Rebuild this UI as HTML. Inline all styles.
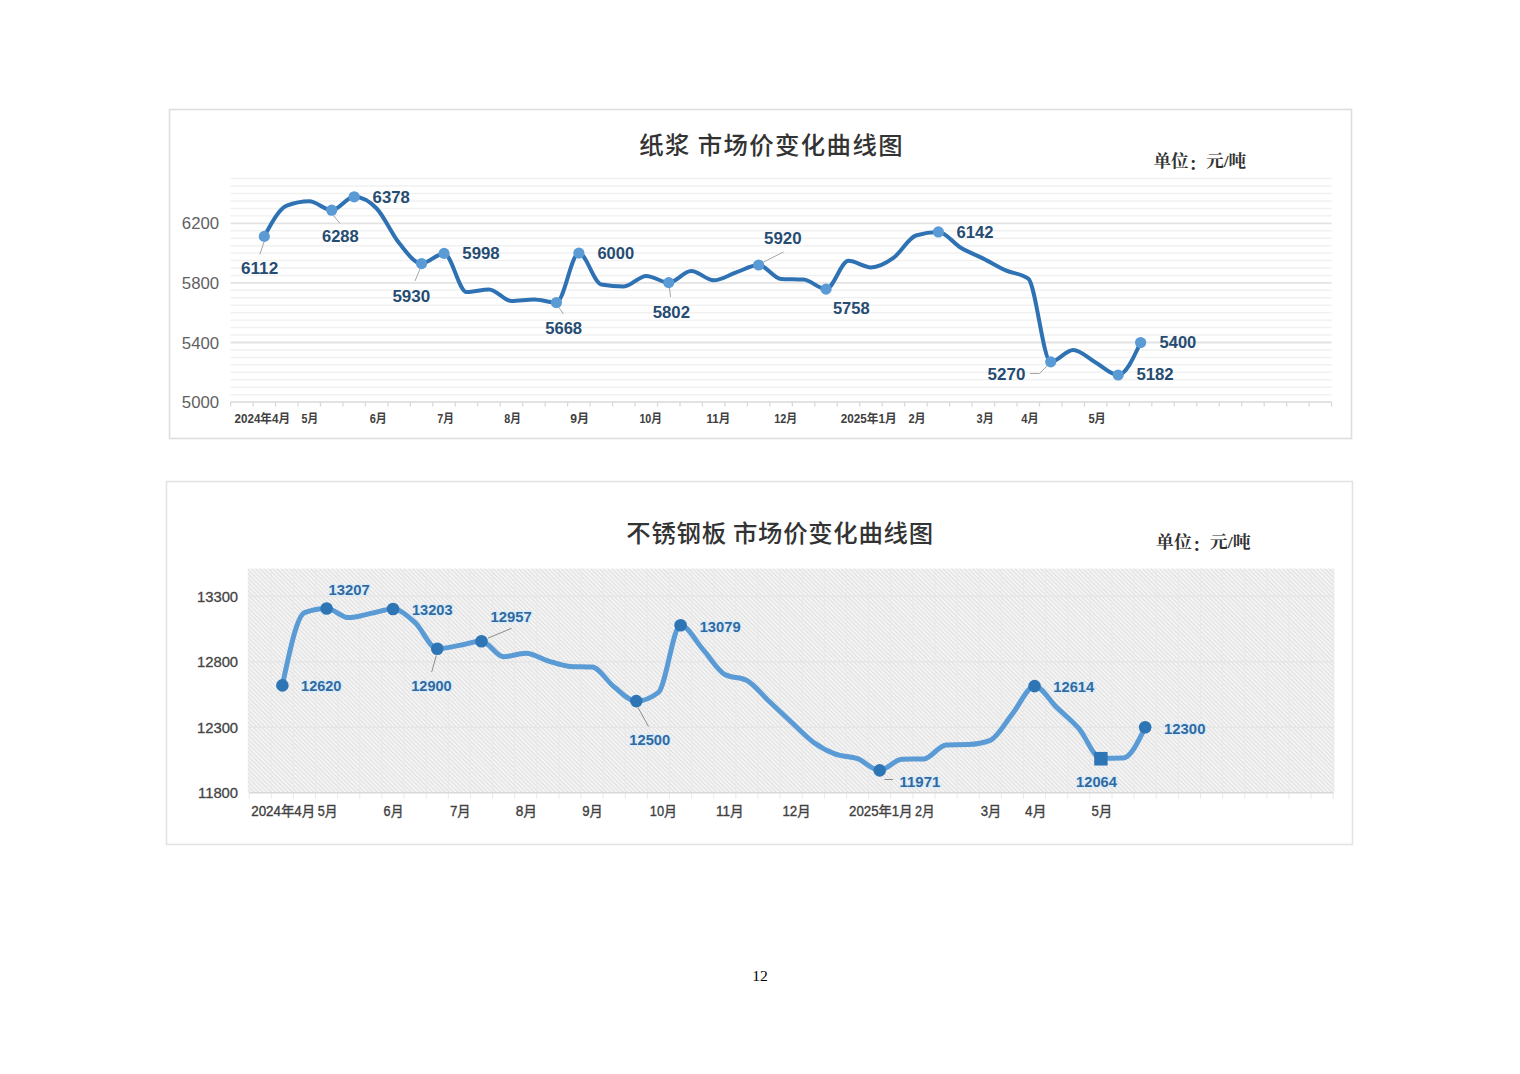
<!DOCTYPE html><html lang="zh"><head><meta charset="utf-8"><title>市场价变化曲线图</title>
<style>html,body{margin:0;padding:0;background:#fff;}body{width:1520px;height:1074px;overflow:hidden;position:relative;}svg{position:absolute;left:0;top:0;display:block;}</style></head><body>
<svg width="1520" height="1074" viewBox="0 0 1520 1074">
<defs><pattern id="hatch" patternUnits="userSpaceOnUse" width="3" height="4" patternTransform="rotate(-45)"><rect width="3" height="4" fill="#f8f8f8"/><rect x="0" y="0" width="1.3" height="4" fill="#dfdfdf"/></pattern></defs>
<rect width="1520" height="1074" fill="#fff"/>
<rect x="169.5" y="109.5" width="1182" height="329" fill="#fff" stroke="#dedede" stroke-width="1.6"/>
<line x1="230.6" y1="394.65" x2="1331.6" y2="394.65" stroke="#f1f1f1" stroke-width="1.5"/>
<line x1="230.6" y1="387.20" x2="1331.6" y2="387.20" stroke="#f1f1f1" stroke-width="1.5"/>
<line x1="230.6" y1="379.75" x2="1331.6" y2="379.75" stroke="#f1f1f1" stroke-width="1.5"/>
<line x1="230.6" y1="372.30" x2="1331.6" y2="372.30" stroke="#f1f1f1" stroke-width="1.5"/>
<line x1="230.6" y1="364.85" x2="1331.6" y2="364.85" stroke="#f1f1f1" stroke-width="1.5"/>
<line x1="230.6" y1="357.40" x2="1331.6" y2="357.40" stroke="#f1f1f1" stroke-width="1.5"/>
<line x1="230.6" y1="349.95" x2="1331.6" y2="349.95" stroke="#f1f1f1" stroke-width="1.5"/>
<line x1="230.6" y1="342.50" x2="1331.6" y2="342.50" stroke="#e3e3e3" stroke-width="1.8"/>
<line x1="230.6" y1="335.05" x2="1331.6" y2="335.05" stroke="#f1f1f1" stroke-width="1.5"/>
<line x1="230.6" y1="327.60" x2="1331.6" y2="327.60" stroke="#f1f1f1" stroke-width="1.5"/>
<line x1="230.6" y1="320.15" x2="1331.6" y2="320.15" stroke="#f1f1f1" stroke-width="1.5"/>
<line x1="230.6" y1="312.70" x2="1331.6" y2="312.70" stroke="#f1f1f1" stroke-width="1.5"/>
<line x1="230.6" y1="305.25" x2="1331.6" y2="305.25" stroke="#f1f1f1" stroke-width="1.5"/>
<line x1="230.6" y1="297.80" x2="1331.6" y2="297.80" stroke="#f1f1f1" stroke-width="1.5"/>
<line x1="230.6" y1="290.35" x2="1331.6" y2="290.35" stroke="#f1f1f1" stroke-width="1.5"/>
<line x1="230.6" y1="282.90" x2="1331.6" y2="282.90" stroke="#e3e3e3" stroke-width="1.8"/>
<line x1="230.6" y1="275.45" x2="1331.6" y2="275.45" stroke="#f1f1f1" stroke-width="1.5"/>
<line x1="230.6" y1="268.00" x2="1331.6" y2="268.00" stroke="#f1f1f1" stroke-width="1.5"/>
<line x1="230.6" y1="260.55" x2="1331.6" y2="260.55" stroke="#f1f1f1" stroke-width="1.5"/>
<line x1="230.6" y1="253.10" x2="1331.6" y2="253.10" stroke="#f1f1f1" stroke-width="1.5"/>
<line x1="230.6" y1="245.65" x2="1331.6" y2="245.65" stroke="#f1f1f1" stroke-width="1.5"/>
<line x1="230.6" y1="238.20" x2="1331.6" y2="238.20" stroke="#f1f1f1" stroke-width="1.5"/>
<line x1="230.6" y1="230.75" x2="1331.6" y2="230.75" stroke="#f1f1f1" stroke-width="1.5"/>
<line x1="230.6" y1="223.30" x2="1331.6" y2="223.30" stroke="#e3e3e3" stroke-width="1.8"/>
<line x1="230.6" y1="215.85" x2="1331.6" y2="215.85" stroke="#f1f1f1" stroke-width="1.5"/>
<line x1="230.6" y1="208.40" x2="1331.6" y2="208.40" stroke="#f1f1f1" stroke-width="1.5"/>
<line x1="230.6" y1="200.95" x2="1331.6" y2="200.95" stroke="#f1f1f1" stroke-width="1.5"/>
<line x1="230.6" y1="193.50" x2="1331.6" y2="193.50" stroke="#f1f1f1" stroke-width="1.5"/>
<line x1="230.6" y1="186.05" x2="1331.6" y2="186.05" stroke="#f1f1f1" stroke-width="1.5"/>
<line x1="230.6" y1="178.60" x2="1331.6" y2="178.60" stroke="#f1f1f1" stroke-width="1.5"/>
<line x1="230.6" y1="402.10" x2="1331.6" y2="402.10" stroke="#d9d9d9" stroke-width="1.5"/>
<line x1="230.60" y1="402.10" x2="230.60" y2="406.60" stroke="#d9d9d9" stroke-width="1.3"/>
<line x1="253.07" y1="402.10" x2="253.07" y2="406.60" stroke="#d9d9d9" stroke-width="1.3"/>
<line x1="275.54" y1="402.10" x2="275.54" y2="406.60" stroke="#d9d9d9" stroke-width="1.3"/>
<line x1="298.01" y1="402.10" x2="298.01" y2="406.60" stroke="#d9d9d9" stroke-width="1.3"/>
<line x1="320.48" y1="402.10" x2="320.48" y2="406.60" stroke="#d9d9d9" stroke-width="1.3"/>
<line x1="342.95" y1="402.10" x2="342.95" y2="406.60" stroke="#d9d9d9" stroke-width="1.3"/>
<line x1="365.42" y1="402.10" x2="365.42" y2="406.60" stroke="#d9d9d9" stroke-width="1.3"/>
<line x1="387.89" y1="402.10" x2="387.89" y2="406.60" stroke="#d9d9d9" stroke-width="1.3"/>
<line x1="410.36" y1="402.10" x2="410.36" y2="406.60" stroke="#d9d9d9" stroke-width="1.3"/>
<line x1="432.82" y1="402.10" x2="432.82" y2="406.60" stroke="#d9d9d9" stroke-width="1.3"/>
<line x1="455.29" y1="402.10" x2="455.29" y2="406.60" stroke="#d9d9d9" stroke-width="1.3"/>
<line x1="477.76" y1="402.10" x2="477.76" y2="406.60" stroke="#d9d9d9" stroke-width="1.3"/>
<line x1="500.23" y1="402.10" x2="500.23" y2="406.60" stroke="#d9d9d9" stroke-width="1.3"/>
<line x1="522.70" y1="402.10" x2="522.70" y2="406.60" stroke="#d9d9d9" stroke-width="1.3"/>
<line x1="545.17" y1="402.10" x2="545.17" y2="406.60" stroke="#d9d9d9" stroke-width="1.3"/>
<line x1="567.64" y1="402.10" x2="567.64" y2="406.60" stroke="#d9d9d9" stroke-width="1.3"/>
<line x1="590.11" y1="402.10" x2="590.11" y2="406.60" stroke="#d9d9d9" stroke-width="1.3"/>
<line x1="612.58" y1="402.10" x2="612.58" y2="406.60" stroke="#d9d9d9" stroke-width="1.3"/>
<line x1="635.05" y1="402.10" x2="635.05" y2="406.60" stroke="#d9d9d9" stroke-width="1.3"/>
<line x1="657.52" y1="402.10" x2="657.52" y2="406.60" stroke="#d9d9d9" stroke-width="1.3"/>
<line x1="679.99" y1="402.10" x2="679.99" y2="406.60" stroke="#d9d9d9" stroke-width="1.3"/>
<line x1="702.46" y1="402.10" x2="702.46" y2="406.60" stroke="#d9d9d9" stroke-width="1.3"/>
<line x1="724.93" y1="402.10" x2="724.93" y2="406.60" stroke="#d9d9d9" stroke-width="1.3"/>
<line x1="747.40" y1="402.10" x2="747.40" y2="406.60" stroke="#d9d9d9" stroke-width="1.3"/>
<line x1="769.87" y1="402.10" x2="769.87" y2="406.60" stroke="#d9d9d9" stroke-width="1.3"/>
<line x1="792.33" y1="402.10" x2="792.33" y2="406.60" stroke="#d9d9d9" stroke-width="1.3"/>
<line x1="814.80" y1="402.10" x2="814.80" y2="406.60" stroke="#d9d9d9" stroke-width="1.3"/>
<line x1="837.27" y1="402.10" x2="837.27" y2="406.60" stroke="#d9d9d9" stroke-width="1.3"/>
<line x1="859.74" y1="402.10" x2="859.74" y2="406.60" stroke="#d9d9d9" stroke-width="1.3"/>
<line x1="882.21" y1="402.10" x2="882.21" y2="406.60" stroke="#d9d9d9" stroke-width="1.3"/>
<line x1="904.68" y1="402.10" x2="904.68" y2="406.60" stroke="#d9d9d9" stroke-width="1.3"/>
<line x1="927.15" y1="402.10" x2="927.15" y2="406.60" stroke="#d9d9d9" stroke-width="1.3"/>
<line x1="949.62" y1="402.10" x2="949.62" y2="406.60" stroke="#d9d9d9" stroke-width="1.3"/>
<line x1="972.09" y1="402.10" x2="972.09" y2="406.60" stroke="#d9d9d9" stroke-width="1.3"/>
<line x1="994.56" y1="402.10" x2="994.56" y2="406.60" stroke="#d9d9d9" stroke-width="1.3"/>
<line x1="1017.03" y1="402.10" x2="1017.03" y2="406.60" stroke="#d9d9d9" stroke-width="1.3"/>
<line x1="1039.50" y1="402.10" x2="1039.50" y2="406.60" stroke="#d9d9d9" stroke-width="1.3"/>
<line x1="1061.97" y1="402.10" x2="1061.97" y2="406.60" stroke="#d9d9d9" stroke-width="1.3"/>
<line x1="1084.44" y1="402.10" x2="1084.44" y2="406.60" stroke="#d9d9d9" stroke-width="1.3"/>
<line x1="1106.91" y1="402.10" x2="1106.91" y2="406.60" stroke="#d9d9d9" stroke-width="1.3"/>
<line x1="1129.38" y1="402.10" x2="1129.38" y2="406.60" stroke="#d9d9d9" stroke-width="1.3"/>
<line x1="1151.84" y1="402.10" x2="1151.84" y2="406.60" stroke="#d9d9d9" stroke-width="1.3"/>
<line x1="1174.31" y1="402.10" x2="1174.31" y2="406.60" stroke="#d9d9d9" stroke-width="1.3"/>
<line x1="1196.78" y1="402.10" x2="1196.78" y2="406.60" stroke="#d9d9d9" stroke-width="1.3"/>
<line x1="1219.25" y1="402.10" x2="1219.25" y2="406.60" stroke="#d9d9d9" stroke-width="1.3"/>
<line x1="1241.72" y1="402.10" x2="1241.72" y2="406.60" stroke="#d9d9d9" stroke-width="1.3"/>
<line x1="1264.19" y1="402.10" x2="1264.19" y2="406.60" stroke="#d9d9d9" stroke-width="1.3"/>
<line x1="1286.66" y1="402.10" x2="1286.66" y2="406.60" stroke="#d9d9d9" stroke-width="1.3"/>
<line x1="1309.13" y1="402.10" x2="1309.13" y2="406.60" stroke="#d9d9d9" stroke-width="1.3"/>
<line x1="1331.60" y1="402.10" x2="1331.60" y2="406.60" stroke="#d9d9d9" stroke-width="1.3"/>
<text x="219.2" y="229.30" text-anchor="end" font-family="'Liberation Sans', 'Noto Sans CJK SC', sans-serif" font-size="16.8" fill="#5f5f5f">6200</text>
<text x="219.2" y="288.90" text-anchor="end" font-family="'Liberation Sans', 'Noto Sans CJK SC', sans-serif" font-size="16.8" fill="#5f5f5f">5800</text>
<text x="219.2" y="348.50" text-anchor="end" font-family="'Liberation Sans', 'Noto Sans CJK SC', sans-serif" font-size="16.8" fill="#5f5f5f">5400</text>
<text x="219.2" y="408.10" text-anchor="end" font-family="'Liberation Sans', 'Noto Sans CJK SC', sans-serif" font-size="16.8" fill="#5f5f5f">5000</text>
<text x="234.5" y="422.6" font-family="'Liberation Sans', 'Noto Sans CJK SC', sans-serif" font-size="12" font-weight="bold" fill="#404040" textLength="55.6" lengthAdjust="spacingAndGlyphs">2024年4月</text>
<text x="301.6" y="422.6" font-family="'Liberation Sans', 'Noto Sans CJK SC', sans-serif" font-size="12" font-weight="bold" fill="#404040" textLength="16.6" lengthAdjust="spacingAndGlyphs">5月</text>
<text x="369.7" y="422.6" font-family="'Liberation Sans', 'Noto Sans CJK SC', sans-serif" font-size="12" font-weight="bold" fill="#404040" textLength="17.1" lengthAdjust="spacingAndGlyphs">6月</text>
<text x="437.2" y="422.6" font-family="'Liberation Sans', 'Noto Sans CJK SC', sans-serif" font-size="12" font-weight="bold" fill="#404040" textLength="16.7" lengthAdjust="spacingAndGlyphs">7月</text>
<text x="504.3" y="422.6" font-family="'Liberation Sans', 'Noto Sans CJK SC', sans-serif" font-size="12" font-weight="bold" fill="#404040" textLength="16.7" lengthAdjust="spacingAndGlyphs">8月</text>
<text x="570.3" y="422.6" font-family="'Liberation Sans', 'Noto Sans CJK SC', sans-serif" font-size="12" font-weight="bold" fill="#404040" textLength="18.8" lengthAdjust="spacingAndGlyphs">9月</text>
<text x="639.4" y="422.6" font-family="'Liberation Sans', 'Noto Sans CJK SC', sans-serif" font-size="12" font-weight="bold" fill="#404040" textLength="22.7" lengthAdjust="spacingAndGlyphs">10月</text>
<text x="706.5" y="422.6" font-family="'Liberation Sans', 'Noto Sans CJK SC', sans-serif" font-size="12" font-weight="bold" fill="#404040" textLength="23.7" lengthAdjust="spacingAndGlyphs">11月</text>
<text x="774.2" y="422.6" font-family="'Liberation Sans', 'Noto Sans CJK SC', sans-serif" font-size="12" font-weight="bold" fill="#404040" textLength="23.1" lengthAdjust="spacingAndGlyphs">12月</text>
<text x="840.7" y="422.6" font-family="'Liberation Sans', 'Noto Sans CJK SC', sans-serif" font-size="12" font-weight="bold" fill="#404040" textLength="55.9" lengthAdjust="spacingAndGlyphs">2025年1月</text>
<text x="908.4" y="422.6" font-family="'Liberation Sans', 'Noto Sans CJK SC', sans-serif" font-size="12" font-weight="bold" fill="#404040" textLength="17.2" lengthAdjust="spacingAndGlyphs">2月</text>
<text x="976.5" y="422.6" font-family="'Liberation Sans', 'Noto Sans CJK SC', sans-serif" font-size="12" font-weight="bold" fill="#404040" textLength="17.2" lengthAdjust="spacingAndGlyphs">3月</text>
<text x="1021.3" y="422.6" font-family="'Liberation Sans', 'Noto Sans CJK SC', sans-serif" font-size="12" font-weight="bold" fill="#404040" textLength="17.4" lengthAdjust="spacingAndGlyphs">4月</text>
<text x="1088.4" y="422.6" font-family="'Liberation Sans', 'Noto Sans CJK SC', sans-serif" font-size="12" font-weight="bold" fill="#404040" textLength="17.4" lengthAdjust="spacingAndGlyphs">5月</text>
<text x="639.2" y="154.0" font-family="'Noto Sans CJK SC', 'Liberation Sans', sans-serif" font-size="24.4" font-weight="500" fill="#333333" textLength="263.4" lengthAdjust="spacing">纸浆 市场价变化曲线图</text>
<text x="1153.4" y="167.0" font-family="'Liberation Serif', 'Noto Serif CJK SC', serif" font-size="17" font-weight="bold" fill="#333333" textLength="92.8" lengthAdjust="spacingAndGlyphs">单位<tspan dy="3.2">：</tspan><tspan dy="-3.2">元/吨</tspan></text>
<line x1="264.0" y1="242.0" x2="259.8" y2="254.5" stroke="#a6a6a6" stroke-width="1"/>
<line x1="333.5" y1="215.5" x2="340.0" y2="223.5" stroke="#a6a6a6" stroke-width="1"/>
<line x1="420.0" y1="269.0" x2="415.0" y2="281.0" stroke="#a6a6a6" stroke-width="1"/>
<line x1="558.5" y1="307.0" x2="563.5" y2="314.0" stroke="#a6a6a6" stroke-width="1"/>
<line x1="669.5" y1="288.0" x2="670.5" y2="297.0" stroke="#a6a6a6" stroke-width="1"/>
<line x1="763.5" y1="262.0" x2="783.5" y2="252.0" stroke="#a6a6a6" stroke-width="1"/>
<line x1="1048.0" y1="365.0" x2="1039.5" y2="373.5" stroke="#a6a6a6" stroke-width="1"/>
<line x1="1039.5" y1="373.5" x2="1030.0" y2="373.5" stroke="#a6a6a6" stroke-width="1"/>
<path d="M264.30,236.41 C271.79,222.47 279.28,208.53 286.77,205.60 C294.26,202.67 301.75,201.20 309.24,201.20 C316.73,201.20 324.22,210.19 331.71,210.19 C339.20,210.19 346.69,196.78 354.18,196.78 C361.67,196.78 369.16,200.78 376.65,208.50 C384.14,216.22 391.63,233.93 399.12,243.10 C406.61,252.27 414.10,263.53 421.59,263.53 C429.08,263.53 436.57,253.40 444.06,253.40 C451.55,253.40 459.04,292.00 466.53,292.00 C474.02,292.00 481.51,289.40 489.00,289.40 C496.49,289.40 503.98,301.00 511.47,301.00 C518.96,301.00 526.45,299.60 533.94,299.60 C541.43,299.60 548.92,302.57 556.41,302.57 C563.90,302.57 571.39,253.10 578.88,253.10 C586.37,253.10 593.86,283.23 601.34,284.50 C608.83,285.77 616.32,286.40 623.81,286.40 C631.30,286.40 638.79,275.90 646.28,275.90 C653.77,275.90 661.26,282.60 668.75,282.60 C676.24,282.60 683.73,271.00 691.22,271.00 C698.71,271.00 706.20,280.30 713.69,280.30 C721.18,280.30 728.67,274.95 736.16,272.40 C743.65,269.85 751.14,265.02 758.63,265.02 C766.12,265.02 773.61,278.60 781.10,279.00 C788.59,279.40 796.08,279.20 803.57,279.60 C811.06,280.00 818.55,289.16 826.04,289.16 C833.53,289.16 841.02,260.80 848.51,260.80 C856.00,260.80 863.49,267.40 870.98,267.40 C878.47,267.40 885.96,263.22 893.45,257.90 C900.94,252.58 908.43,237.87 915.92,235.50 C923.41,233.13 930.90,231.94 938.39,231.94 C945.88,231.94 953.37,243.26 960.86,247.70 C968.34,252.14 975.83,254.82 983.32,258.60 C990.81,262.38 998.30,267.05 1005.79,270.40 C1013.28,273.75 1020.77,273.17 1028.26,278.70 C1035.75,284.23 1043.24,361.87 1050.73,361.87 C1058.22,361.87 1065.71,350.00 1073.20,350.00 C1080.69,350.00 1088.18,358.34 1095.67,362.50 C1103.16,366.66 1110.65,374.98 1118.14,374.98 C1125.63,374.98 1133.12,358.74 1140.61,342.50" fill="none" stroke="#2e72b4" stroke-width="4" stroke-linejoin="round" stroke-linecap="round"/>
<circle cx="264.30" cy="236.41" r="5.6" fill="#5b9bd5"/>
<circle cx="331.71" cy="210.19" r="5.6" fill="#5b9bd5"/>
<circle cx="354.18" cy="196.78" r="5.6" fill="#5b9bd5"/>
<circle cx="421.59" cy="263.53" r="5.6" fill="#5b9bd5"/>
<circle cx="444.06" cy="253.40" r="5.6" fill="#5b9bd5"/>
<circle cx="556.41" cy="302.57" r="5.6" fill="#5b9bd5"/>
<circle cx="578.88" cy="253.10" r="5.6" fill="#5b9bd5"/>
<circle cx="668.75" cy="282.60" r="5.6" fill="#5b9bd5"/>
<circle cx="758.63" cy="265.02" r="5.6" fill="#5b9bd5"/>
<circle cx="826.04" cy="289.16" r="5.6" fill="#5b9bd5"/>
<circle cx="938.39" cy="231.94" r="5.6" fill="#5b9bd5"/>
<circle cx="1050.73" cy="361.87" r="5.6" fill="#5b9bd5"/>
<circle cx="1118.14" cy="374.98" r="5.6" fill="#5b9bd5"/>
<circle cx="1140.61" cy="342.50" r="5.6" fill="#5b9bd5"/>
<text x="241.0" y="273.7" font-family="'Liberation Sans', 'Noto Sans CJK SC', sans-serif" font-size="15.6" font-weight="bold" fill="#264c72" textLength="37.2" lengthAdjust="spacingAndGlyphs">6112</text>
<text x="322.0" y="242.1" font-family="'Liberation Sans', 'Noto Sans CJK SC', sans-serif" font-size="15.6" font-weight="bold" fill="#264c72" textLength="36.7" lengthAdjust="spacingAndGlyphs">6288</text>
<text x="372.6" y="202.6" font-family="'Liberation Sans', 'Noto Sans CJK SC', sans-serif" font-size="15.6" font-weight="bold" fill="#264c72" textLength="37.2" lengthAdjust="spacingAndGlyphs">6378</text>
<text x="392.4" y="302.1" font-family="'Liberation Sans', 'Noto Sans CJK SC', sans-serif" font-size="15.6" font-weight="bold" fill="#264c72" textLength="37.9" lengthAdjust="spacingAndGlyphs">5930</text>
<text x="462.3" y="258.8" font-family="'Liberation Sans', 'Noto Sans CJK SC', sans-serif" font-size="15.6" font-weight="bold" fill="#264c72" textLength="37.4" lengthAdjust="spacingAndGlyphs">5998</text>
<text x="545.2" y="333.5" font-family="'Liberation Sans', 'Noto Sans CJK SC', sans-serif" font-size="15.6" font-weight="bold" fill="#264c72" textLength="36.9" lengthAdjust="spacingAndGlyphs">5668</text>
<text x="597.4" y="258.5" font-family="'Liberation Sans', 'Noto Sans CJK SC', sans-serif" font-size="15.6" font-weight="bold" fill="#264c72" textLength="36.7" lengthAdjust="spacingAndGlyphs">6000</text>
<text x="652.7" y="318.4" font-family="'Liberation Sans', 'Noto Sans CJK SC', sans-serif" font-size="15.6" font-weight="bold" fill="#264c72" textLength="37.3" lengthAdjust="spacingAndGlyphs">5802</text>
<text x="764.0" y="244.4" font-family="'Liberation Sans', 'Noto Sans CJK SC', sans-serif" font-size="15.6" font-weight="bold" fill="#264c72" textLength="37.6" lengthAdjust="spacingAndGlyphs">5920</text>
<text x="832.9" y="314.2" font-family="'Liberation Sans', 'Noto Sans CJK SC', sans-serif" font-size="15.6" font-weight="bold" fill="#264c72" textLength="36.8" lengthAdjust="spacingAndGlyphs">5758</text>
<text x="956.5" y="238.2" font-family="'Liberation Sans', 'Noto Sans CJK SC', sans-serif" font-size="15.6" font-weight="bold" fill="#264c72" textLength="37.0" lengthAdjust="spacingAndGlyphs">6142</text>
<text x="987.6" y="379.9" font-family="'Liberation Sans', 'Noto Sans CJK SC', sans-serif" font-size="15.6" font-weight="bold" fill="#264c72" textLength="37.8" lengthAdjust="spacingAndGlyphs">5270</text>
<text x="1136.4" y="380.2" font-family="'Liberation Sans', 'Noto Sans CJK SC', sans-serif" font-size="15.6" font-weight="bold" fill="#264c72" textLength="37.3" lengthAdjust="spacingAndGlyphs">5182</text>
<text x="1159.5" y="347.6" font-family="'Liberation Sans', 'Noto Sans CJK SC', sans-serif" font-size="15.6" font-weight="bold" fill="#264c72" textLength="36.8" lengthAdjust="spacingAndGlyphs">5400</text>
<rect x="166.5" y="481.5" width="1186" height="363" fill="#fff" stroke="#e3e3e3" stroke-width="1.6"/>
<rect x="247.8" y="568.6" width="1086.6" height="224.2" fill="url(#hatch)"/>
<line x1="249.20" y1="568.6" x2="249.20" y2="798.80" stroke="#e9e9e9" stroke-width="1.0"/>
<line x1="271.32" y1="568.6" x2="271.32" y2="798.80" stroke="#e9e9e9" stroke-width="1.0"/>
<line x1="293.44" y1="568.6" x2="293.44" y2="798.80" stroke="#e9e9e9" stroke-width="1.0"/>
<line x1="315.57" y1="568.6" x2="315.57" y2="798.80" stroke="#e9e9e9" stroke-width="1.0"/>
<line x1="337.69" y1="568.6" x2="337.69" y2="798.80" stroke="#e9e9e9" stroke-width="1.0"/>
<line x1="359.81" y1="568.6" x2="359.81" y2="798.80" stroke="#e9e9e9" stroke-width="1.0"/>
<line x1="381.93" y1="568.6" x2="381.93" y2="798.80" stroke="#e9e9e9" stroke-width="1.0"/>
<line x1="404.06" y1="568.6" x2="404.06" y2="798.80" stroke="#e9e9e9" stroke-width="1.0"/>
<line x1="426.18" y1="568.6" x2="426.18" y2="798.80" stroke="#e9e9e9" stroke-width="1.0"/>
<line x1="448.30" y1="568.6" x2="448.30" y2="798.80" stroke="#e9e9e9" stroke-width="1.0"/>
<line x1="470.42" y1="568.6" x2="470.42" y2="798.80" stroke="#e9e9e9" stroke-width="1.0"/>
<line x1="492.55" y1="568.6" x2="492.55" y2="798.80" stroke="#e9e9e9" stroke-width="1.0"/>
<line x1="514.67" y1="568.6" x2="514.67" y2="798.80" stroke="#e9e9e9" stroke-width="1.0"/>
<line x1="536.79" y1="568.6" x2="536.79" y2="798.80" stroke="#e9e9e9" stroke-width="1.0"/>
<line x1="558.91" y1="568.6" x2="558.91" y2="798.80" stroke="#e9e9e9" stroke-width="1.0"/>
<line x1="581.04" y1="568.6" x2="581.04" y2="798.80" stroke="#e9e9e9" stroke-width="1.0"/>
<line x1="603.16" y1="568.6" x2="603.16" y2="798.80" stroke="#e9e9e9" stroke-width="1.0"/>
<line x1="625.28" y1="568.6" x2="625.28" y2="798.80" stroke="#e9e9e9" stroke-width="1.0"/>
<line x1="647.40" y1="568.6" x2="647.40" y2="798.80" stroke="#e9e9e9" stroke-width="1.0"/>
<line x1="669.53" y1="568.6" x2="669.53" y2="798.80" stroke="#e9e9e9" stroke-width="1.0"/>
<line x1="691.65" y1="568.6" x2="691.65" y2="798.80" stroke="#e9e9e9" stroke-width="1.0"/>
<line x1="713.77" y1="568.6" x2="713.77" y2="798.80" stroke="#e9e9e9" stroke-width="1.0"/>
<line x1="735.89" y1="568.6" x2="735.89" y2="798.80" stroke="#e9e9e9" stroke-width="1.0"/>
<line x1="758.02" y1="568.6" x2="758.02" y2="798.80" stroke="#e9e9e9" stroke-width="1.0"/>
<line x1="780.14" y1="568.6" x2="780.14" y2="798.80" stroke="#e9e9e9" stroke-width="1.0"/>
<line x1="802.26" y1="568.6" x2="802.26" y2="798.80" stroke="#e9e9e9" stroke-width="1.0"/>
<line x1="824.38" y1="568.6" x2="824.38" y2="798.80" stroke="#e9e9e9" stroke-width="1.0"/>
<line x1="846.51" y1="568.6" x2="846.51" y2="798.80" stroke="#e9e9e9" stroke-width="1.0"/>
<line x1="868.63" y1="568.6" x2="868.63" y2="798.80" stroke="#e9e9e9" stroke-width="1.0"/>
<line x1="890.75" y1="568.6" x2="890.75" y2="798.80" stroke="#e9e9e9" stroke-width="1.0"/>
<line x1="912.87" y1="568.6" x2="912.87" y2="798.80" stroke="#e9e9e9" stroke-width="1.0"/>
<line x1="935.00" y1="568.6" x2="935.00" y2="798.80" stroke="#e9e9e9" stroke-width="1.0"/>
<line x1="957.12" y1="568.6" x2="957.12" y2="798.80" stroke="#e9e9e9" stroke-width="1.0"/>
<line x1="979.24" y1="568.6" x2="979.24" y2="798.80" stroke="#e9e9e9" stroke-width="1.0"/>
<line x1="1001.36" y1="568.6" x2="1001.36" y2="798.80" stroke="#e9e9e9" stroke-width="1.0"/>
<line x1="1023.49" y1="568.6" x2="1023.49" y2="798.80" stroke="#e9e9e9" stroke-width="1.0"/>
<line x1="1045.61" y1="568.6" x2="1045.61" y2="798.80" stroke="#e9e9e9" stroke-width="1.0"/>
<line x1="1067.73" y1="568.6" x2="1067.73" y2="798.80" stroke="#e9e9e9" stroke-width="1.0"/>
<line x1="1089.85" y1="568.6" x2="1089.85" y2="798.80" stroke="#e9e9e9" stroke-width="1.0"/>
<line x1="1111.98" y1="568.6" x2="1111.98" y2="798.80" stroke="#e9e9e9" stroke-width="1.0"/>
<line x1="1134.10" y1="568.6" x2="1134.10" y2="798.80" stroke="#e9e9e9" stroke-width="1.0"/>
<line x1="1156.22" y1="568.6" x2="1156.22" y2="798.80" stroke="#e9e9e9" stroke-width="1.0"/>
<line x1="1178.34" y1="568.6" x2="1178.34" y2="798.80" stroke="#e9e9e9" stroke-width="1.0"/>
<line x1="1200.47" y1="568.6" x2="1200.47" y2="798.80" stroke="#e9e9e9" stroke-width="1.0"/>
<line x1="1222.59" y1="568.6" x2="1222.59" y2="798.80" stroke="#e9e9e9" stroke-width="1.0"/>
<line x1="1244.71" y1="568.6" x2="1244.71" y2="798.80" stroke="#e9e9e9" stroke-width="1.0"/>
<line x1="1266.83" y1="568.6" x2="1266.83" y2="798.80" stroke="#e9e9e9" stroke-width="1.0"/>
<line x1="1288.96" y1="568.6" x2="1288.96" y2="798.80" stroke="#e9e9e9" stroke-width="1.0"/>
<line x1="1311.08" y1="568.6" x2="1311.08" y2="798.80" stroke="#e9e9e9" stroke-width="1.0"/>
<line x1="1333.20" y1="568.6" x2="1333.20" y2="798.80" stroke="#e9e9e9" stroke-width="1.0"/>
<line x1="249.2" y1="596.30" x2="1333.2" y2="596.30" stroke="#e6e6e6" stroke-width="1.4"/>
<line x1="249.2" y1="661.80" x2="1333.2" y2="661.80" stroke="#e6e6e6" stroke-width="1.4"/>
<line x1="249.2" y1="727.30" x2="1333.2" y2="727.30" stroke="#e6e6e6" stroke-width="1.4"/>
<line x1="249.2" y1="792.80" x2="1333.2" y2="792.80" stroke="#d9d9d9" stroke-width="1.6"/>
<text x="238.1" y="601.70" text-anchor="end" font-family="'Liberation Sans', 'Noto Sans CJK SC', sans-serif" font-size="14.8" fill="#444444" stroke="#444444" stroke-width="0.3">13300</text>
<text x="238.1" y="667.20" text-anchor="end" font-family="'Liberation Sans', 'Noto Sans CJK SC', sans-serif" font-size="14.8" fill="#444444" stroke="#444444" stroke-width="0.3">12800</text>
<text x="238.1" y="732.70" text-anchor="end" font-family="'Liberation Sans', 'Noto Sans CJK SC', sans-serif" font-size="14.8" fill="#444444" stroke="#444444" stroke-width="0.3">12300</text>
<text x="238.1" y="798.20" text-anchor="end" font-family="'Liberation Sans', 'Noto Sans CJK SC', sans-serif" font-size="14.8" fill="#444444" stroke="#444444" stroke-width="0.3">11800</text>
<text x="251.2" y="815.9" font-family="'Liberation Sans', 'Noto Sans CJK SC', sans-serif" font-size="14" fill="#404040" stroke="#404040" stroke-width="0.35" textLength="64.0" lengthAdjust="spacingAndGlyphs">2024年4月</text>
<text x="317.8" y="815.9" font-family="'Liberation Sans', 'Noto Sans CJK SC', sans-serif" font-size="14" fill="#404040" stroke="#404040" stroke-width="0.35" textLength="19.8" lengthAdjust="spacingAndGlyphs">5月</text>
<text x="383.6" y="815.9" font-family="'Liberation Sans', 'Noto Sans CJK SC', sans-serif" font-size="14" fill="#404040" stroke="#404040" stroke-width="0.35" textLength="19.8" lengthAdjust="spacingAndGlyphs">6月</text>
<text x="449.9" y="815.9" font-family="'Liberation Sans', 'Noto Sans CJK SC', sans-serif" font-size="14" fill="#404040" stroke="#404040" stroke-width="0.35" textLength="20.6" lengthAdjust="spacingAndGlyphs">7月</text>
<text x="515.7" y="815.9" font-family="'Liberation Sans', 'Noto Sans CJK SC', sans-serif" font-size="14" fill="#404040" stroke="#404040" stroke-width="0.35" textLength="21.3" lengthAdjust="spacingAndGlyphs">8月</text>
<text x="582.3" y="815.9" font-family="'Liberation Sans', 'Noto Sans CJK SC', sans-serif" font-size="14" fill="#404040" stroke="#404040" stroke-width="0.35" textLength="20.5" lengthAdjust="spacingAndGlyphs">9月</text>
<text x="649.8" y="815.9" font-family="'Liberation Sans', 'Noto Sans CJK SC', sans-serif" font-size="14" fill="#404040" stroke="#404040" stroke-width="0.35" textLength="27.1" lengthAdjust="spacingAndGlyphs">10月</text>
<text x="715.9" y="815.9" font-family="'Liberation Sans', 'Noto Sans CJK SC', sans-serif" font-size="14" fill="#404040" stroke="#404040" stroke-width="0.35" textLength="27.8" lengthAdjust="spacingAndGlyphs">11月</text>
<text x="782.4" y="815.9" font-family="'Liberation Sans', 'Noto Sans CJK SC', sans-serif" font-size="14" fill="#404040" stroke="#404040" stroke-width="0.35" textLength="28.1" lengthAdjust="spacingAndGlyphs">12月</text>
<text x="849.1" y="815.9" font-family="'Liberation Sans', 'Noto Sans CJK SC', sans-serif" font-size="14" fill="#404040" stroke="#404040" stroke-width="0.35" textLength="63.3" lengthAdjust="spacingAndGlyphs">2025年1月</text>
<text x="914.9" y="815.9" font-family="'Liberation Sans', 'Noto Sans CJK SC', sans-serif" font-size="14" fill="#404040" stroke="#404040" stroke-width="0.35" textLength="19.6" lengthAdjust="spacingAndGlyphs">2月</text>
<text x="980.7" y="815.9" font-family="'Liberation Sans', 'Noto Sans CJK SC', sans-serif" font-size="14" fill="#404040" stroke="#404040" stroke-width="0.35" textLength="20.5" lengthAdjust="spacingAndGlyphs">3月</text>
<text x="1025.1" y="815.9" font-family="'Liberation Sans', 'Noto Sans CJK SC', sans-serif" font-size="14" fill="#404040" stroke="#404040" stroke-width="0.35" textLength="21.2" lengthAdjust="spacingAndGlyphs">4月</text>
<text x="1091.6" y="815.9" font-family="'Liberation Sans', 'Noto Sans CJK SC', sans-serif" font-size="14" fill="#404040" stroke="#404040" stroke-width="0.35" textLength="20.5" lengthAdjust="spacingAndGlyphs">5月</text>
<text x="626.3" y="541.5" font-family="'Noto Sans CJK SC', 'Liberation Sans', sans-serif" font-size="24.4" font-weight="500" fill="#333333" textLength="306.8" lengthAdjust="spacing">不锈钢板 市场价变化曲线图</text>
<text x="1156.0" y="547.8" font-family="'Liberation Serif', 'Noto Serif CJK SC', serif" font-size="17" font-weight="bold" fill="#333333" textLength="94.8" lengthAdjust="spacingAndGlyphs">单位<tspan dy="3.2">：</tspan><tspan dy="-3.2">元/吨</tspan></text>
<line x1="436.3" y1="655.5" x2="431.7" y2="672.0" stroke="#8c8c8c" stroke-width="1"/>
<line x1="487.9" y1="638.2" x2="511.6" y2="628.3" stroke="#8c8c8c" stroke-width="1"/>
<line x1="638.0" y1="707.5" x2="648.5" y2="726.5" stroke="#8c8c8c" stroke-width="1"/>
<line x1="884.5" y1="779.5" x2="893.0" y2="779.5" stroke="#8c8c8c" stroke-width="1"/>
<path d="M282.38,685.38 C289.76,650.45 297.13,615.51 304.51,612.70 C311.88,609.89 319.25,608.48 326.63,608.48 C334.00,608.48 341.38,617.60 348.75,617.60 C356.13,617.60 363.50,614.83 370.87,613.40 C378.25,611.97 385.62,609.01 393.00,609.01 C400.37,609.01 407.74,615.98 415.12,622.60 C422.49,629.22 429.87,648.70 437.24,648.70 C444.61,648.70 451.99,646.64 459.36,645.40 C466.74,644.16 474.11,641.23 481.49,641.23 C488.86,641.23 496.23,656.80 503.61,656.80 C510.98,656.80 518.36,653.30 525.73,653.30 C533.10,653.30 540.48,658.62 547.85,660.80 C555.23,662.98 562.60,665.93 569.98,666.40 C577.35,666.87 584.72,666.63 592.10,667.10 C599.47,667.57 606.85,681.33 614.22,687.00 C621.59,692.67 628.97,701.10 636.34,701.10 C643.72,701.10 651.09,698.20 658.47,692.40 C665.84,686.60 673.21,625.25 680.59,625.25 C687.96,625.25 695.34,640.99 702.71,649.20 C710.08,657.41 717.46,670.50 724.83,674.50 C732.21,678.50 739.58,676.50 746.96,680.50 C754.33,684.50 761.70,694.38 769.08,701.30 C776.45,708.22 783.83,715.18 791.20,722.00 C798.57,728.82 805.95,736.85 813.32,742.20 C820.70,747.55 828.07,751.35 835.44,754.10 C842.82,756.85 850.19,755.98 857.57,758.70 C864.94,761.42 872.32,770.40 879.69,770.40 C887.06,770.40 894.44,759.57 901.81,759.30 C909.19,759.03 916.56,759.17 923.93,758.90 C931.31,758.63 938.68,745.17 946.06,744.90 C953.43,744.63 960.81,744.77 968.18,744.50 C975.55,744.23 982.93,743.10 990.30,740.30 C997.68,737.50 1005.05,722.92 1012.42,713.90 C1019.80,704.88 1027.17,686.17 1034.55,686.17 C1041.92,686.17 1049.30,700.36 1056.67,707.40 C1064.04,714.44 1071.42,719.93 1078.79,728.40 C1086.17,736.87 1093.54,758.22 1100.91,758.22 C1108.29,758.22 1115.66,758.14 1123.04,758.00 C1130.41,757.86 1137.79,742.58 1145.16,727.30" fill="none" stroke="#5b9bd5" stroke-width="5" stroke-linejoin="round" stroke-linecap="round"/>
<circle cx="282.38" cy="685.38" r="6.3" fill="#2e75b6"/>
<circle cx="326.63" cy="608.48" r="6.3" fill="#2e75b6"/>
<circle cx="393.00" cy="609.01" r="6.3" fill="#2e75b6"/>
<circle cx="437.24" cy="648.70" r="6.3" fill="#2e75b6"/>
<circle cx="481.49" cy="641.23" r="6.3" fill="#2e75b6"/>
<circle cx="636.34" cy="701.10" r="6.3" fill="#2e75b6"/>
<circle cx="680.59" cy="625.25" r="6.3" fill="#2e75b6"/>
<circle cx="879.69" cy="770.40" r="6.3" fill="#2e75b6"/>
<circle cx="1034.55" cy="686.17" r="6.3" fill="#2e75b6"/>
<circle cx="1145.16" cy="727.30" r="6.3" fill="#2e75b6"/>
<rect x="1094.21" y="751.92" width="13.4" height="13.6" fill="#2e75b6"/>
<text x="301.1" y="691.0" font-family="'Liberation Sans', 'Noto Sans CJK SC', sans-serif" font-size="15" font-weight="bold" fill="#32699e" stroke="#d8ecfb" stroke-width="2.4" paint-order="stroke" stroke-linejoin="round" textLength="40.3" lengthAdjust="spacingAndGlyphs">12620</text>
<text x="328.4" y="595.4" font-family="'Liberation Sans', 'Noto Sans CJK SC', sans-serif" font-size="15" font-weight="bold" fill="#32699e" stroke="#d8ecfb" stroke-width="2.4" paint-order="stroke" stroke-linejoin="round" textLength="41.3" lengthAdjust="spacingAndGlyphs">13207</text>
<text x="412.0" y="614.5" font-family="'Liberation Sans', 'Noto Sans CJK SC', sans-serif" font-size="15" font-weight="bold" fill="#32699e" stroke="#d8ecfb" stroke-width="2.4" paint-order="stroke" stroke-linejoin="round" textLength="40.6" lengthAdjust="spacingAndGlyphs">13203</text>
<text x="411.3" y="691.2" font-family="'Liberation Sans', 'Noto Sans CJK SC', sans-serif" font-size="15" font-weight="bold" fill="#32699e" stroke="#d8ecfb" stroke-width="2.4" paint-order="stroke" stroke-linejoin="round" textLength="40.3" lengthAdjust="spacingAndGlyphs">12900</text>
<text x="490.5" y="622.1" font-family="'Liberation Sans', 'Noto Sans CJK SC', sans-serif" font-size="15" font-weight="bold" fill="#32699e" stroke="#d8ecfb" stroke-width="2.4" paint-order="stroke" stroke-linejoin="round" textLength="41.3" lengthAdjust="spacingAndGlyphs">12957</text>
<text x="629.3" y="745.3" font-family="'Liberation Sans', 'Noto Sans CJK SC', sans-serif" font-size="15" font-weight="bold" fill="#32699e" stroke="#d8ecfb" stroke-width="2.4" paint-order="stroke" stroke-linejoin="round" textLength="40.9" lengthAdjust="spacingAndGlyphs">12500</text>
<text x="699.7" y="631.7" font-family="'Liberation Sans', 'Noto Sans CJK SC', sans-serif" font-size="15" font-weight="bold" fill="#32699e" stroke="#d8ecfb" stroke-width="2.4" paint-order="stroke" stroke-linejoin="round" textLength="40.9" lengthAdjust="spacingAndGlyphs">13079</text>
<text x="899.5" y="786.7" font-family="'Liberation Sans', 'Noto Sans CJK SC', sans-serif" font-size="15" font-weight="bold" fill="#32699e" stroke="#d8ecfb" stroke-width="2.4" paint-order="stroke" stroke-linejoin="round" textLength="40.9" lengthAdjust="spacingAndGlyphs">11971</text>
<text x="1053.3" y="692.0" font-family="'Liberation Sans', 'Noto Sans CJK SC', sans-serif" font-size="15" font-weight="bold" fill="#32699e" stroke="#d8ecfb" stroke-width="2.4" paint-order="stroke" stroke-linejoin="round" textLength="40.9" lengthAdjust="spacingAndGlyphs">12614</text>
<text x="1076.1" y="787.0" font-family="'Liberation Sans', 'Noto Sans CJK SC', sans-serif" font-size="15" font-weight="bold" fill="#32699e" stroke="#d8ecfb" stroke-width="2.4" paint-order="stroke" stroke-linejoin="round" textLength="40.8" lengthAdjust="spacingAndGlyphs">12064</text>
<text x="1164.1" y="734.1" font-family="'Liberation Sans', 'Noto Sans CJK SC', sans-serif" font-size="15" font-weight="bold" fill="#32699e" stroke="#d8ecfb" stroke-width="2.4" paint-order="stroke" stroke-linejoin="round" textLength="41.3" lengthAdjust="spacingAndGlyphs">12300</text>
<text x="760" y="981.3" text-anchor="middle" font-family="'Liberation Serif', 'Noto Serif CJK SC', serif" font-size="15.6" fill="#000">12</text>
</svg></body></html>
